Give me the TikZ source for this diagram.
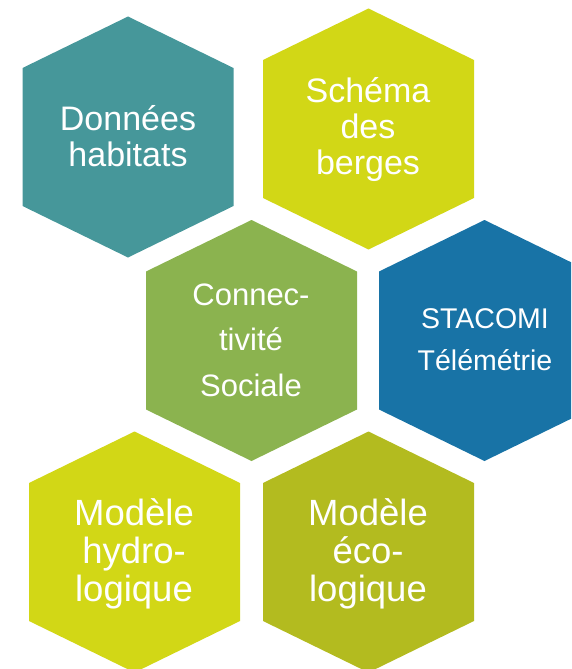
\documentclass[tikz,border=0pt]{standalone}
\usepackage{fontspec}
\setmainfont{Liberation Sans}
\usepackage{xcolor}
\usetikzlibrary{positioning}
\definecolor{hexteal}{HTML}{46979A}
\definecolor{hexlime}{HTML}{D2D716}
\definecolor{hexgreen}{HTML}{8BB34F}
\definecolor{hexblue}{HTML}{1873A6}
\definecolor{hexolive}{HTML}{B3BB1F}
\tikzset{hexa/.pic={\fill[pic actions] (0,-120.5) -- (105.5,-69) -- (105.5,69) -- (0,120.5) -- (-105.5,69) -- (-105.5,-69) -- cycle;},
  lab/.style={text=white,align=center,inner sep=0pt}}

\begin{document}
\begin{tikzpicture}[x=1pt,y=-1pt]
        \clip (0,0) rectangle (571,669);% page
        \pic[fill=hexteal]  at (128,137)   {hexa};
        \pic[fill=hexlime]  at (368.5,129) {hexa};
        \pic[fill=hexgreen] at (251.5,340.5) {hexa};
        \pic[fill=hexblue]  at (484.5,340.5) {hexa};
        \pic[fill=hexlime]  at (134.5,552) {hexa};
        \pic[fill=hexolive] at (368.5,552) {hexa};
        \node[lab,font=\fontsize{34}{36}\selectfont] (donnees) at (128,136) {Données\\habitats};
        \node[lab,font=\fontsize{34}{36}\selectfont] (schema) at (368,130) {Schéma\\des\\berges};
        \node[lab,font=\fontsize{31}{45.5}\selectfont] (connect) at (251,340) {Connec-\\tivité\\Sociale};
        \node[lab,font=\fontsize{28.5}{41.7}\selectfont] (stacomi) at (485,339.5) {STACOMI\\Télémétrie};
        \node[lab,font=\fontsize{36.5}{38.3}\selectfont] (hydro) at (134,554) {Modèle\\hydro-\\logique};
        \node[lab,font=\fontsize{36.5}{38.3}\selectfont] (eco) at (368,554) {Modèle\\éco-\\logique};
      \end{tikzpicture}
\end{document}
